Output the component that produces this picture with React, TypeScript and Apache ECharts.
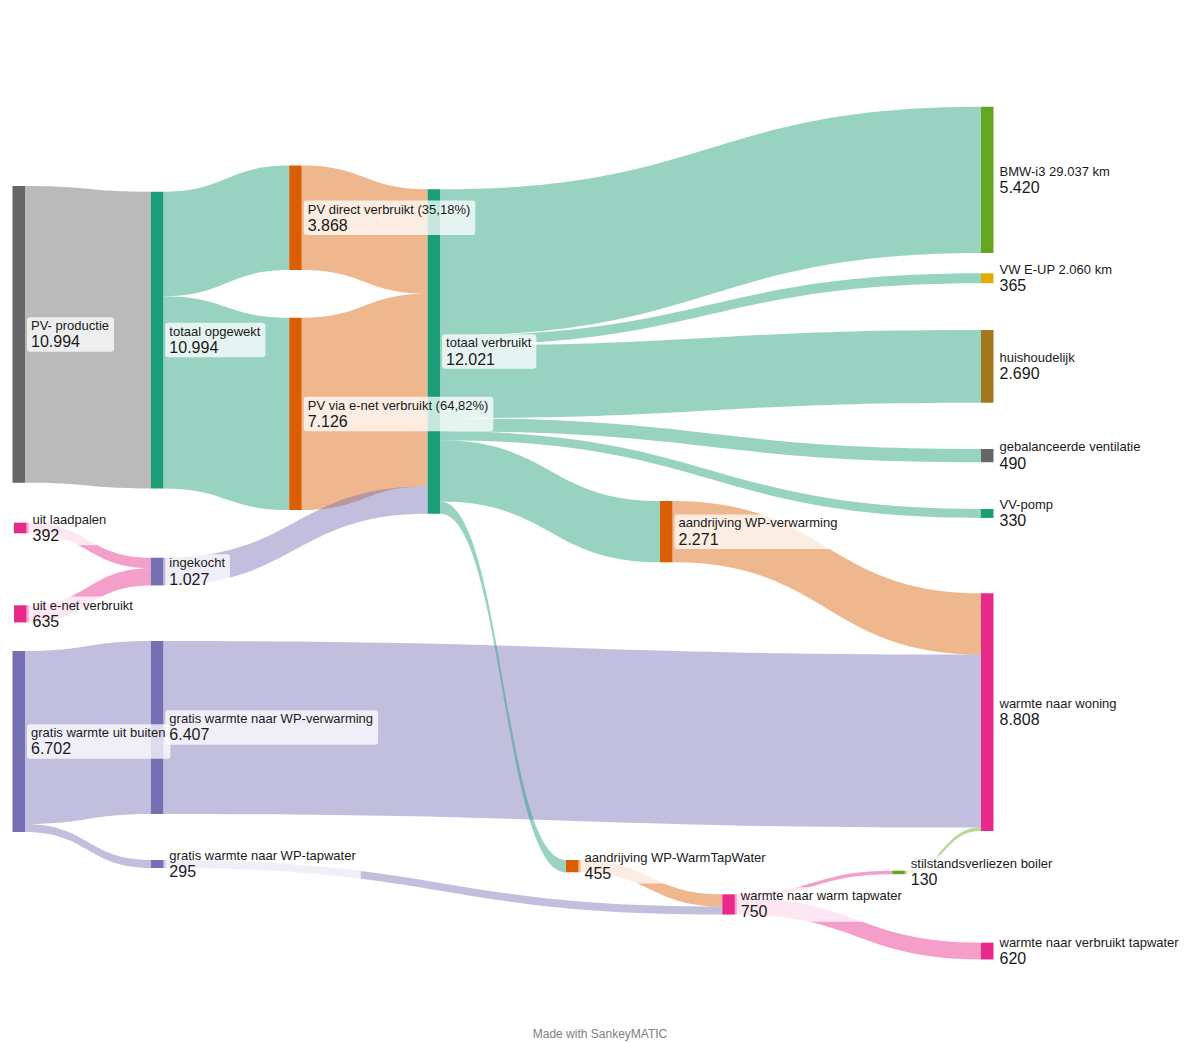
import React, { useEffect, useRef } from 'react';
import * as echarts from 'echarts';

// ---------- data ----------
const nodeNames = [
  'PV- productie',
  'uit laadpalen',
  'uit e-net verbruikt',
  'gratis warmte uit buiten',
  'totaal opgewekt',
  'ingekocht',
  'gratis warmte naar WP-verwarming',
  'gratis warmte naar WP-tapwater',
  'PV direct verbruikt (35,18%)',
  'PV via e-net verbruikt (64,82%)',
  'totaal verbruikt',
  'warmte naar warm tapwater',
  'BMW-i3 29.037 km',
  'VW E-UP 2.060 km',
  'huishoudelijk',
  'gebalanceerde ventilatie',
  'VV-pomp',
  'aandrijving WP-verwarming',
  'aandrijving WP-WarmTapWater',
  'stilstandsverliezen boiler',
  'warmte naar woning',
  'warmte naar verbruikt tapwater',
];
const nodeValues = [
  10994, 392, 635, 6702, 10994, 1027, 6407, 295, 3868, 7126, 12021, 750,
  5420, 365, 2690, 490, 330, 2271, 455, 130, 8808, 620,
];

const linkSources = [
  'PV- productie',
  'totaal opgewekt',
  'totaal opgewekt',
  'PV direct verbruikt (35,18%)',
  'PV via e-net verbruikt (64,82%)',
  'uit laadpalen',
  'uit e-net verbruikt',
  'ingekocht',
  'gratis warmte uit buiten',
  'gratis warmte uit buiten',
  'gratis warmte naar WP-verwarming',
  'gratis warmte naar WP-tapwater',
  'totaal verbruikt',
  'totaal verbruikt',
  'totaal verbruikt',
  'totaal verbruikt',
  'totaal verbruikt',
  'totaal verbruikt',
  'totaal verbruikt',
  'aandrijving WP-verwarming',
  'aandrijving WP-WarmTapWater',
  'warmte naar warm tapwater',
  'warmte naar warm tapwater',
  'stilstandsverliezen boiler',
];
const linkTargets = [
  'totaal opgewekt',
  'PV direct verbruikt (35,18%)',
  'PV via e-net verbruikt (64,82%)',
  'totaal verbruikt',
  'totaal verbruikt',
  'ingekocht',
  'ingekocht',
  'totaal verbruikt',
  'gratis warmte naar WP-verwarming',
  'gratis warmte naar WP-tapwater',
  'warmte naar woning',
  'warmte naar warm tapwater',
  'BMW-i3 29.037 km',
  'VW E-UP 2.060 km',
  'huishoudelijk',
  'gebalanceerde ventilatie',
  'VV-pomp',
  'aandrijving WP-verwarming',
  'aandrijving WP-WarmTapWater',
  'warmte naar woning',
  'warmte naar warm tapwater',
  'stilstandsverliezen boiler',
  'warmte naar verbruikt tapwater',
  'warmte naar woning',
];
const linkValues = [
  10994, 3868, 7126, 3868, 7126, 392, 635, 1027, 6407, 295, 6407, 295,
  5420, 365, 2690, 490, 330, 2271, 455, 2271, 455, 130, 620, 130,
];

// ---------- styling / layout (kept apart from the data) ----------
const DARK2 = {
  green: '#1b9e77',
  orange: '#d95f02',
  purple: '#7570b3',
  pink: '#e7298a',
  lime: '#66a61e',
  yellow: '#e6ab02',
  brown: '#a6761d',
  gray: '#666666',
};
const nodeColors: Record<string, string> = {
  'PV- productie': DARK2.gray,
  'uit laadpalen': DARK2.pink,
  'uit e-net verbruikt': DARK2.pink,
  'gratis warmte uit buiten': DARK2.purple,
  'totaal opgewekt': DARK2.green,
  'ingekocht': DARK2.purple,
  'gratis warmte naar WP-verwarming': DARK2.purple,
  'gratis warmte naar WP-tapwater': DARK2.purple,
  'PV direct verbruikt (35,18%)': DARK2.orange,
  'PV via e-net verbruikt (64,82%)': DARK2.orange,
  'totaal verbruikt': DARK2.green,
  'warmte naar warm tapwater': DARK2.pink,
  'BMW-i3 29.037 km': DARK2.lime,
  'VW E-UP 2.060 km': DARK2.yellow,
  'huishoudelijk': DARK2.brown,
  'gebalanceerde ventilatie': DARK2.gray,
  'VV-pomp': DARK2.green,
  'aandrijving WP-verwarming': DARK2.orange,
  'aandrijving WP-WarmTapWater': DARK2.orange,
  'stilstandsverliezen boiler': DARK2.lime,
  'warmte naar woning': DARK2.pink,
  'warmte naar verbruikt tapwater': DARK2.pink,
};

// column (depth) of each node, and where each node is placed (like SankeyMATIC "move")
const nodeDepth: Record<string, number> = {
  'PV- productie': 0,
  'uit laadpalen': 0,
  'uit e-net verbruikt': 0,
  'gratis warmte uit buiten': 0,
  'totaal opgewekt': 1,
  'ingekocht': 1,
  'gratis warmte naar WP-verwarming': 1,
  'gratis warmte naar WP-tapwater': 1,
  'PV direct verbruikt (35,18%)': 2,
  'PV via e-net verbruikt (64,82%)': 2,
  'totaal verbruikt': 3,
  'warmte naar warm tapwater': 5,
  'BMW-i3 29.037 km': 7,
  'VW E-UP 2.060 km': 7,
  'huishoudelijk': 7,
  'gebalanceerde ventilatie': 7,
  'VV-pomp': 7,
  'aandrijving WP-verwarming': 7,
  'aandrijving WP-WarmTapWater': 7,
  'stilstandsverliezen boiler': 7,
  'warmte naar woning': 7,
  'warmte naar verbruikt tapwater': 7,
};
const nodeTop: Record<string, number> = {
  'PV- productie': 186,
  'uit laadpalen': 522.7,
  'uit e-net verbruikt': 605.3,
  'gratis warmte uit buiten': 651,
  'totaal opgewekt': 191.7,
  'ingekocht': 557.7,
  'gratis warmte naar WP-verwarming': 641,
  'gratis warmte naar WP-tapwater': 860,
  'PV direct verbruikt (35,18%)': 165.6,
  'PV via e-net verbruikt (64,82%)': 317.7,
  'totaal verbruikt': 189.3,
  'warmte naar warm tapwater': 894.3,
  'BMW-i3 29.037 km': 106.7,
  'VW E-UP 2.060 km': 273.3,
  'huishoudelijk': 330,
  'gebalanceerde ventilatie': 449,
  'VV-pomp': 509,
  'aandrijving WP-verwarming': 501,
  'aandrijving WP-WarmTapWater': 860,
  'stilstandsverliezen boiler': 870.7,
  'warmte naar woning': 593.3,
  'warmte naar verbruikt tapwater': 942.7,
};
const nodeLeft: Record<string, number> = {
  'uit laadpalen': 14,
  'uit e-net verbruikt': 14,
  'aandrijving WP-verwarming': 660,
  'aandrijving WP-WarmTapWater': 566,
  'warmte naar warm tapwater': 722.3,
  'stilstandsverliezen boiler': 892.3,
};

const KY = 0.027; // px per unit
const GAP = 10;
const LEFT = 12.5;
const TOP = 100;
const WIDTH = 981;
const NODE_W = 12.5;

function fmt(v: number): string {
  return String(Math.round(v)).replace(/\B(?=(\d{3})+(?!\d))/g, '.');
}

export default function App() {
  const ref = useRef<HTMLDivElement>(null);
  useEffect(() => {
    document.body.style.margin = '0';
    const chart = echarts.init(ref.current!, null, { renderer: 'svg' });

    // layout height chosen so that the densest column gives KY px per unit
    const cols: Record<number, { sum: number; n: number }> = {};
    nodeNames.forEach((n, i) => {
      const d = nodeDepth[n];
      cols[d] = cols[d] || { sum: 0, n: 0 };
      cols[d].sum += nodeValues[i];
      cols[d].n += 1;
    });
    let H = 0;
    Object.values(cols).forEach((c) => {
      H = Math.max(H, c.sum * KY + (c.n - 1) * GAP);
    });

    const data = nodeNames.map((name, i) => {
      const item: any = {
        name,
        value: nodeValues[i],
        depth: nodeDepth[name],
        itemStyle: { color: nodeColors[name] },
        localY: (nodeTop[name] - TOP) / H,
      };
      if (nodeLeft[name] != null) item.localX = (nodeLeft[name] - LEFT) / WIDTH;
      return item;
    });
    const links = linkSources.map((s, i) => ({
      source: s,
      target: linkTargets[i],
      value: linkValues[i],
    }));

    const fontFamily = '"Liberation Sans", Arial, Helvetica, sans-serif';
    chart.setOption({
      animation: false,
      backgroundColor: '#ffffff',
      series: [
        {
          type: 'sankey',
          left: LEFT,
          top: TOP,
          width: WIDTH,
          height: H,
          nodeWidth: NODE_W,
          nodeGap: GAP,
          nodeAlign: 'left',
          layoutIterations: 0,
          draggable: false,
          emphasis: { disabled: true },
          data,
          links,
          itemStyle: { borderWidth: 0 },
          lineStyle: { color: 'source', opacity: 0.45, curveness: 0.5 },
          label: {
            show: true,
            position: 'right',
            distance: 2,
            backgroundColor: 'rgba(255,255,255,0.75)',
            borderRadius: 3,
            padding: [1, 5, 1, 4],
            color: '#1a1a1a',
            fontFamily,
            formatter: (p: any) => `{n|${p.name}}\n{v|${fmt(p.value)}}`,
            rich: {
              n: { fontSize: 13, lineHeight: 15, fontFamily, color: '#1a1a1a' },
              v: { fontSize: 16, lineHeight: 17.5, fontFamily, color: '#1a1a1a' },
            },
          },
        },
      ],
      graphic: [
        {
          type: 'text',
          left: 'center',
          top: 1028,
          style: {
            text: 'Made with SankeyMATIC',
            fill: '#808080',
            fontSize: 12,
            fontFamily,
          },
        },
      ],
    });
    return () => chart.dispose();
  }, []);
  return <div ref={ref} style={{ width: 1200, height: 1043 }} />;
}
